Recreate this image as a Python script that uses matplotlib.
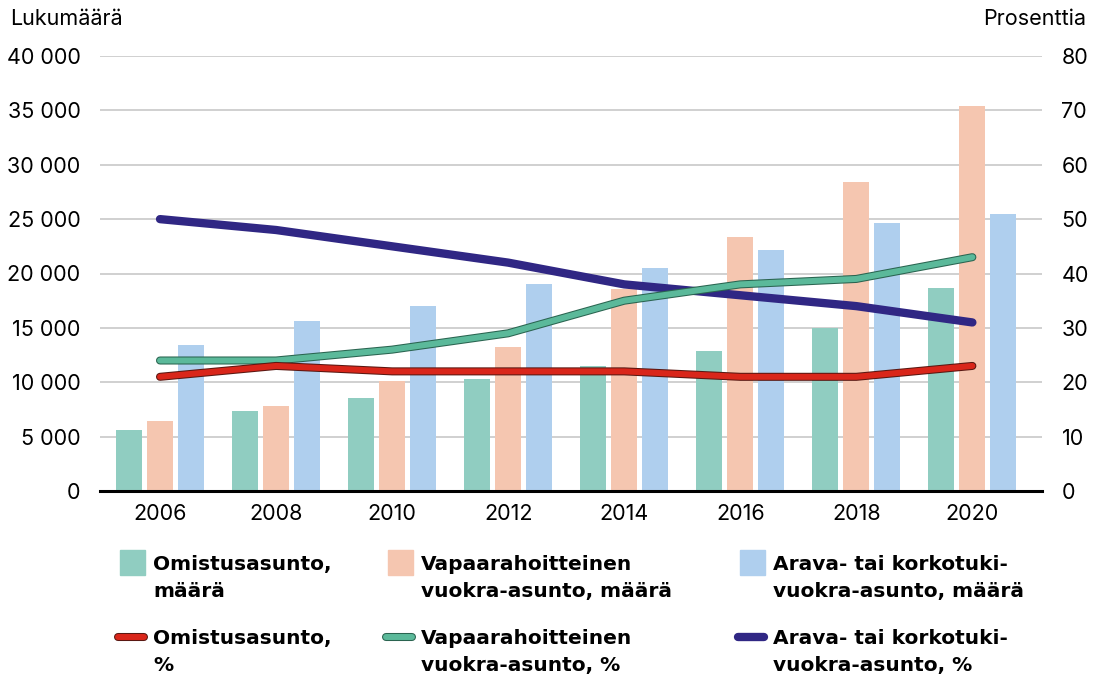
import matplotlib
matplotlib.use("Agg")
import matplotlib.pyplot as plt
import matplotlib.patheffects as pe
import numpy as np
from matplotlib.patches import Rectangle
from matplotlib.lines import Line2D

years = ["2006", "2008", "2010", "2012", "2014", "2016", "2018", "2020"]

# counts (left axis)
omistus_maara = [5600, 7350, 8550, 10300, 11500, 12900, 15000, 18700]
vapaa_maara = [6400, 7800, 10100, 13200, 18600, 23400, 28400, 35400]
arava_maara = [13400, 15600, 17000, 19000, 20500, 22200, 24600, 25500]

# shares (right axis)
omistus_pct = [21, 23, 22, 22, 22, 21, 21, 23]
vapaa_pct = [24, 24, 26, 29, 35, 38, 39, 43]
arava_pct = [50, 48, 45, 42, 38, 36, 34, 31]

left_ticks = [0, 5000, 10000, 15000, 20000, 25000, 30000, 35000, 40000]
right_ticks = [0, 10, 20, 30, 40, 50, 60, 70, 80]

c_green_bar = "#90cdc1"
c_orange_bar = "#f5c6b0"
c_blue_bar = "#afcfee"
c_red = "#d9261a"
c_green = "#5bb99a"
c_navy = "#302784"

tick_font = ["Inter", "DejaVu Sans"]
legend_font = ["DejaVu Sans"]

fig = plt.figure(figsize=(10.94, 6.84), dpi=100)
ax = fig.add_axes([100 / 1094, 1 - 491 / 684, 942 / 1094, 435 / 684])
ax2 = ax.twinx()

x = np.arange(len(years))
w = 0.224
off = 0.267
ax.bar(x - off, omistus_maara, w, color=c_green_bar, zorder=2)
ax.bar(x, vapaa_maara, w, color=c_orange_bar, zorder=2)
ax.bar(x + off, arava_maara, w, color=c_blue_bar, zorder=2)

ax.set_ylim(0, 40000)
ax.set_xlim(-0.517, 7.60)
ax.set_yticks(left_ticks)
ax.set_yticklabels([f"{v:,}".replace(",", " ") for v in left_ticks],
                   family=tick_font, fontsize=15.5)
ax.set_xticks(x)
ax.set_xticklabels(years, family=tick_font, fontsize=15.5)
ax.tick_params(axis="x", length=0, pad=9)
ax.tick_params(axis="y", length=0, pad=14)
ax.grid(axis="y", color="#c8c8c8", linewidth=1.2, zorder=0)
ax.set_axisbelow(True)
for s in ["top", "left", "right"]:
    ax.spines[s].set_visible(False)
ax.spines["bottom"].set_linewidth(2.2)
ax.spines["bottom"].set_zorder(5)

outline_red = [pe.Stroke(linewidth=5.8, foreground="#5a1812"), pe.Normal()]
outline_green = [pe.Stroke(linewidth=5.8, foreground="#2a6450"), pe.Normal()]
ax2.plot(x, arava_pct, color=c_navy, linewidth=6, solid_capstyle="round",
         solid_joinstyle="round", zorder=3)
ax2.plot(x, vapaa_pct, color=c_green, linewidth=4.3, solid_capstyle="round",
         solid_joinstyle="round", path_effects=outline_green, zorder=4)
ax2.plot(x, omistus_pct, color=c_red, linewidth=4.3, solid_capstyle="round",
         solid_joinstyle="round", path_effects=outline_red, zorder=5)
ax2.set_ylim(0, 80)
ax2.set_yticks(right_ticks)
ax2.set_yticklabels([str(v) for v in right_ticks], family=tick_font, fontsize=15.5)
ax2.tick_params(axis="y", length=0, pad=14)
for s in ["top", "left", "right", "bottom"]:
    ax2.spines[s].set_visible(False)

fig.text(10 / 1094, 1 - 19 / 684, "Lukumäärä", family=tick_font, fontsize=15.5,
         va="center", ha="left")
fig.text(1086 / 1094, 1 - 19 / 684, "Prosenttia", family=tick_font, fontsize=15.5,
         va="center", ha="right")

# legend
cols = [120, 388, 740]
bar_labels = ["Omistusasunto,\nmäärä", "Vapaarahoitteinen\nvuokra-asunto, määrä",
              "Arava- tai korkotuki-\nvuokra-asunto, määrä"]
line_labels = ["Omistusasunto,\n%", "Vapaarahoitteinen\nvuokra-asunto, %",
               "Arava- tai korkotuki-\nvuokra-asunto, %"]
bar_cols = [c_green_bar, c_orange_bar, c_blue_bar]
line_cols = [c_red, c_green, c_navy]
line_fx = [outline_red, outline_green, None]
W, H = 1094, 684
for i, cx in enumerate(cols):
    fig.add_artist(Rectangle((cx / W, 1 - 575 / H), 25 / W, 25 / H,
                             transform=fig.transFigure, color=bar_cols[i]))
    fig.text((cx + 33) / W, 1 - 578 / H, bar_labels[i], family=legend_font,
             fontweight="bold", fontsize=14.5, va="center", ha="left",
             linespacing=1.5)
    ln = Line2D([(cx - 2) / W, (cx + 24) / W], [1 - 637 / H, 1 - 637 / H],
                transform=fig.transFigure, color=line_cols[i], linewidth=4.3,
                solid_capstyle="round")
    if line_fx[i]:
        ln.set_path_effects(line_fx[i])
    else:
        ln.set_linewidth(6)
    fig.add_artist(ln)
    fig.text((cx + 33) / W, 1 - 652 / H, line_labels[i], family=legend_font,
             fontweight="bold", fontsize=14.5, va="center", ha="left",
             linespacing=1.5)

fig.savefig("out.png", dpi=100)
